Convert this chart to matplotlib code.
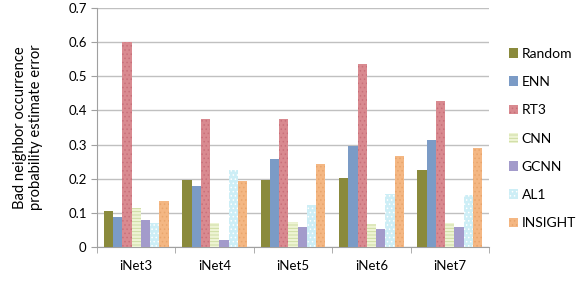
import matplotlib.pyplot as plt
import numpy as np

plt.rcParams['font.family'] = ['Lato', 'DejaVu Sans']
plt.rcParams['hatch.linewidth'] = 0.6

networks = ['iNet3', 'iNet4', 'iNet5', 'iNet6', 'iNet7']
methods = ['Random', 'ENN', 'RT3', 'CNN', 'GCNN', 'AL1', 'INSIGHT']

random_vals = [0.105, 0.197, 0.196, 0.202, 0.226]
enn_vals = [0.088, 0.178, 0.258, 0.296, 0.313]
rt3_vals = [0.600, 0.375, 0.375, 0.537, 0.428]
cnn_vals = [0.115, 0.070, 0.073, 0.067, 0.070]
gcnn_vals = [0.080, 0.022, 0.060, 0.052, 0.058]
al1_vals = [0.070, 0.225, 0.123, 0.155, 0.153]
insight_vals = [0.135, 0.193, 0.243, 0.267, 0.290]

series = [random_vals, enn_vals, rt3_vals, cnn_vals, gcnn_vals, al1_vals, insight_vals]
colors = ['#8a8a3c', '#7b9bc6', '#d98a90', '#eef4d4', '#a39bcb', '#cdeef6', '#f4b783']
hatch_colors = ['#8a8a3c', '#7b9bc6', '#c9707a', '#c9d99c', '#a39bcb', '#ffffff', '#e9a56c']
hatches = [None, None, '....', '-----', None, '....', '....']

fig = plt.figure(figsize=(5.78, 2.84), dpi=100)
ax = fig.add_axes([0.168, 0.13, 0.678, 0.842])

x = np.arange(len(networks))
w = 0.118
for i, vals in enumerate(series):
    ax.bar(x + (i - 3) * w, vals, w, color=colors[i], edgecolor=hatch_colors[i],
           hatch=hatches[i], linewidth=0, label=methods[i], zorder=3)

ax.set_xlim(-0.5, 4.5)
ax.set_ylim(0, 0.7)
ax.set_yticks(np.arange(0, 0.71, 0.1))
ax.set_yticklabels(['0'] + ['%.1f' % v for v in np.arange(0.1, 0.71, 0.1)])
ax.yaxis.grid(True, color='#c0c0c0', linewidth=1, zorder=0)
ax.set_xticks(x)
ax.set_xticklabels(networks)
ax.set_xticks(np.arange(-0.5, 4.6, 1), minor=True)
ax.tick_params(axis='x', which='major', length=0, pad=9, labelsize=9.5)
ax.tick_params(axis='x', which='minor', length=4, color='#a0a0a0')
ax.tick_params(axis='y', length=4, color='#a0a0a0', labelsize=9.5)
for s in ['top', 'right']:
    ax.spines[s].set_visible(False)
for s in ['left', 'bottom']:
    ax.spines[s].set_color('#a0a0a0')

ax.set_ylabel('Bad neighbor occurrence\nprobability estimate error', fontsize=10.6, labelpad=18)

fig.legend(loc='center left', bbox_to_anchor=(0.868, 0.512), frameon=False,
           fontsize=10, handlelength=0.7, handleheight=0.7, handletextpad=0.25,
           labelspacing=1.17, borderpad=0)

fig.savefig('out.png', dpi=100)
